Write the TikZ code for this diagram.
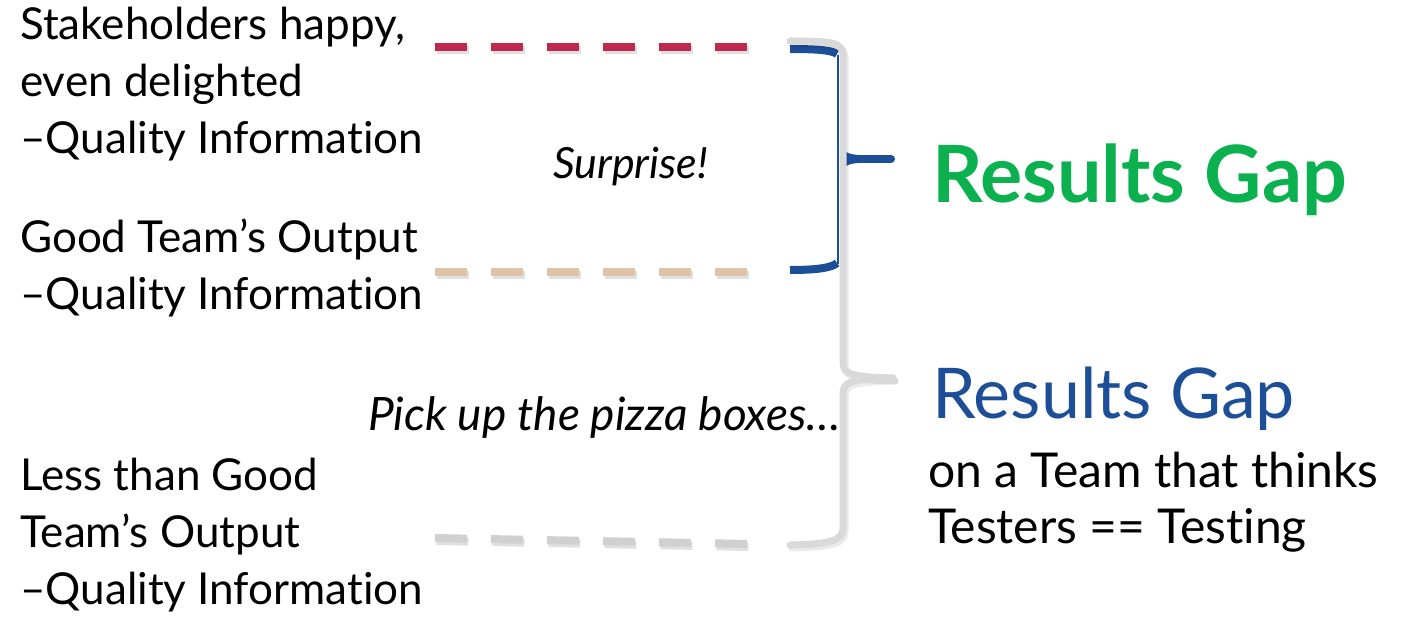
\documentclass[tikz,border=0pt]{standalone}
\usepackage{fontspec}
\setmainfont[Ligatures=NoCommon]{Lato}
\definecolor{dred}{RGB}{192,41,77}
\definecolor{dtan}{RGB}{222,196,164}
\definecolor{dgray}{RGB}{208,208,208}
\definecolor{bgray}{RGB}{217,217,217}
\definecolor{dblue}{RGB}{29,78,152}
\definecolor{dgreen}{RGB}{11,176,79}
\begin{document}
\begin{tikzpicture}[x=1pt,y=-1pt,
  lbl/.style={anchor=base west,inner sep=0pt,font=\fontsize{44}{50}\selectfont},
  rlbl/.style={anchor=base west,inner sep=0pt,font=\fontsize{48}{52}\selectfont},
  itl/.style={anchor=base west,inner sep=0pt,font=\fontsize{43}{48}\selectfont\itshape},
  dashline/.style={line width=8pt,dash pattern=on 32pt off 24pt},
  shadow/.style={line width=8pt,dash pattern=on 32pt off 24pt,draw=black,opacity=0.12}]
\useasboundingbox (0,0) rectangle (1404,620);
% left labels
\node[lbl] (t1) at (20,40) {Stakeholders happy,};
\node[lbl] (t2) at (20,97) {even delighted};
\node[lbl] (t3) at (20,154) {–Quality Information};
\node[lbl] (g1) at (20,252) {Good Team’s Output};
\node[lbl] (g2) at (20,309) {–Quality Information};
\node[lbl] (l1) at (20,490) {Less than Good};
\node[lbl] (l2) at (20,547) {Team’s Output};
\node[lbl] (l3) at (20,604) {–Quality Information};
% middle italic
\node[itl] (sur) at (553,179) {Surprise!};
\node[itl,font=\fontsize{46}{50}\selectfont\itshape] (piz) at (368,430) {Pick up the pizza boxes…};
% right
\node[anchor=base west,inner sep=0pt,text=dgreen,font=\fontsize{79}{86}\selectfont\bfseries] (rg1) at (932,203) {Results Gap};
\node[anchor=base west,inner sep=0pt,text=dblue,font=\fontsize{70}{78}\selectfont] (rg2) at (932,418) {Results Gap};
\node[rlbl] (r1) at (928,487) {on a Team that thinks};
\node[rlbl] (r2) at (928,543) {Testers == Testing};
% dashed lines
\coordinate (a1) at (435,47); \coordinate (a2) at (750,47);
\coordinate (b1) at (435,272); \coordinate (b2) at (750,272);
\coordinate (c1) at (435,538); \coordinate (c2) at (750,544);
\draw[shadow,transform canvas={shift={(1.5pt,-3pt)}}] (a1) -- (a2);
\draw[shadow,transform canvas={shift={(1.5pt,-3pt)}}] (b1) -- (b2);
\draw[shadow,transform canvas={shift={(1.5pt,-3pt)}}] (c1) -- (c2);
\draw[dashline,draw=dred] (a1) -- (a2);
\draw[dashline,draw=dtan] (b1) -- (b2);
\draw[dashline,draw=dgray] (c1) -- (c2);
% blue brace
\draw[dblue,line width=1.5pt] (838,55) -- (838,264);
\draw[dblue,line width=8pt] (790,49) .. controls (815,49) and (832,50) .. (837,54);
\draw[dblue,line width=8pt] (790,270) .. controls (815,270) and (832,268) .. (837,263);
\fill[dblue] (842,149) .. controls (850,157) and (862,155) .. (891,155)
  arc[start angle=90,end angle=-90,radius=4pt]
  .. controls (862,163) and (850,161) .. (842,169) -- cycle;
% gray brace
\begin{scope}[transform canvas={shift={(2pt,-3pt)}}]
\draw[black,opacity=0.08,line width=7pt,line cap=round,line join=round]
  (790,41) .. controls (830,41) and (843,42) .. (843,55)
  -- (843,362) .. controls (843,374) and (850,377) .. (893,378);
\draw[black,opacity=0.08,line width=7pt,line cap=round,line join=round]
  (893,378) .. controls (850,379) and (843,382) .. (843,394)
  -- (843,528) .. controls (843,541) and (830,544) .. (790,545);
\end{scope}
\draw[bgray,line width=7pt,line cap=round,line join=round]
  (790,41) .. controls (830,41) and (843,42) .. (843,55)
  -- (843,362) .. controls (843,374) and (850,377) .. (893,378);
\draw[bgray,line width=7pt,line cap=round,line join=round]
  (893,378) .. controls (850,379) and (843,382) .. (843,394)
  -- (843,528) .. controls (843,541) and (830,544) .. (790,545);
\end{tikzpicture}
\end{document}
